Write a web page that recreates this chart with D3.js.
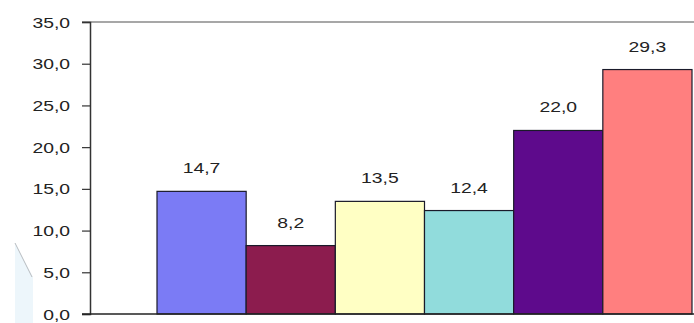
<!DOCTYPE html>
<html><head><meta charset="utf-8">
<script src="https://cdn.jsdelivr.net/npm/d3@7"></script>
<style>body{margin:0;background:#fff}svg{display:block}</style>
</head><body>
<script>
const categories = ["A","B","C","D","E","F"];
const values = [14.7, 8.2, 13.5, 12.4, 22.0, 29.3];
const colors = ["#7b7bf5","#8c1c4e","#ffffc4","#91dcdc","#5e0a8c","#ff7f7f"];
const yTicks = [0,5,10,15,20,25,30,35];

const W=694,H=323;
const svg=d3.select("body").append("svg").attr("width",W).attr("height",H);
const fmt=v=>d3.format(".1f")(v).replace(".",",");
function stretch(sel,f){sel.each(function(){const L=this.getComputedTextLength();d3.select(this).attr("textLength",L*f).attr("lengthAdjust","spacingAndGlyphs");});}

// background artifact at left
svg.append("polygon").attr("points","15,243 33,277 33,323 15,323").attr("fill","#edf6fb");
svg.append("line").attr("x1",15).attr("y1",243).attr("x2",32).attr("y2",277).attr("stroke","#b8bcc0").attr("stroke-width",1);

const y=d3.scaleLinear().domain([0,35]).range([314,22]);
const x=d3.scaleBand().domain(categories).range([157,692]).paddingInner(0).paddingOuter(0);

// top border
svg.append("line").attr("x1",82).attr("x2",W).attr("y1",y(35)).attr("y2",y(35)).attr("stroke","#8a8a8a").attr("stroke-width",1.3);

// bars
svg.selectAll("rect.bar").data(values).enter().append("rect")
 .attr("x",(d,i)=>x(categories[i])).attr("width",x.bandwidth())
 .attr("y",d=>y(d)).attr("height",d=>y(0)-y(d))
 .attr("fill",(d,i)=>colors[i]).attr("stroke","#1a1a2a").attr("stroke-width",1.2);

// y axis
const ax=svg.append("g").attr("transform","translate(90,0)")
 .call(d3.axisLeft(y).tickValues(yTicks).tickSize(8).tickPadding(12).tickFormat(fmt));
ax.select(".domain").attr("stroke","#333").attr("stroke-width",1.5);
ax.selectAll(".tick line").attr("stroke","#333").attr("stroke-width",1.2);
ax.selectAll(".tick text").attr("fill","#222").style("font-family","Arial, 'Liberation Sans'").style("font-size","14px").attr("dy","0.36em");
stretch(ax.selectAll(".tick text"),1.38);

// x axis line
svg.append("line").attr("x1",82).attr("x2",W).attr("y1",y(0)).attr("y2",y(0)).attr("stroke","#222").attr("stroke-width",1.5);

// value labels
const vl=svg.selectAll("text.val").data(values).enter().append("text")
 .attr("x",(d,i)=>x(categories[i])+x.bandwidth()/2).attr("y",d=>y(d)-18)
 .attr("text-anchor","middle").attr("fill","#222")
 .style("font-family","Arial, 'Liberation Sans'").style("font-size","14px")
 .text(d=>fmt(d));
stretch(vl,1.38);
</script>
</body></html>
